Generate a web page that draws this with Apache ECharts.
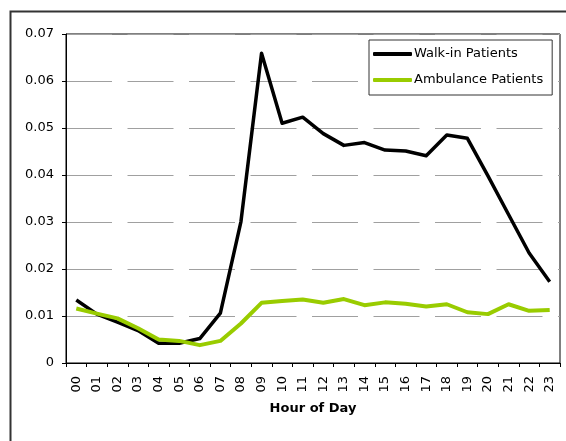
<!DOCTYPE html>
<html>
<head>
<meta charset="utf-8">
<script src="https://cdn.jsdelivr.net/npm/echarts@6/dist/echarts.min.js"></script>
<style>
html,body{margin:0;padding:0;background:#fff;}
#chart{width:566px;height:441px;}
</style>
</head>
<body>
<div id="chart"></div>
<script>
const hours = ['00','01','02','03','04','05','06','07','08','09','10','11','12','13','14','15','16','17','18','19','20','21','22','23'];
const walkIn = [0.0134, 0.0104, 0.0087, 0.0069, 0.0042, 0.0042, 0.0052, 0.0106, 0.0301, 0.0659, 0.0510, 0.0523, 0.0488, 0.0463, 0.0469, 0.0453, 0.0451, 0.0441, 0.0485, 0.0478, 0.0398, 0.0316, 0.0234, 0.0173];
const ambulance = [0.0116, 0.0105, 0.0095, 0.0074, 0.0050, 0.0047, 0.0038, 0.0047, 0.0084, 0.0128, 0.0132, 0.0135, 0.0128, 0.0136, 0.0123, 0.0129, 0.0126, 0.0120, 0.0125, 0.0108, 0.0104, 0.0125, 0.0111, 0.0113];
const seriesNames = ['Walk-in Patients', 'Ambulance Patients'];
const xAxisTitle = 'Hour of Day';

const FONT = '"DejaVu Sans", sans-serif';
const chart = echarts.init(document.getElementById('chart'), null, {renderer: 'canvas'});
chart.setOption({
  animation: false,
  backgroundColor: '#fff',
  graphic: [{
    type: 'rect', left: 8, top: 9, z: -1,
    shape: {x: 0, y: 0, width: 600, height: 500},
    style: {fill: 'none', stroke: '#333', lineWidth: 2}
  }],
  grid: {left: 66, top: 34, right: 6, bottom: 78, show: true, borderColor: '#000', borderWidth: 1, backgroundColor: 'transparent'},
  legend: {
    orient: 'vertical',
    left: 369, top: 40,
    padding: [7, 9, 8, 4],
    itemGap: 12,
    itemWidth: 39, itemHeight: 4,
    icon: 'roundRect',
    backgroundColor: '#fff',
    borderColor: '#333', borderWidth: 1,
    textStyle: {fontFamily: FONT, fontSize: 13, color: '#000', lineHeight: 14, padding: [0, 0, 0, -3]},
    data: seriesNames
  },
  xAxis: {
    type: 'category',
    data: hours,
    boundaryGap: true,
    name: xAxisTitle,
    nameLocation: 'middle',
    nameGap: 39,
    nameTextStyle: {fontFamily: FONT, fontSize: 13, fontWeight: 'bold', color: '#000'},
    axisLine: {lineStyle: {color: '#000', width: 1}},
    axisTick: {show: true, length: 4, lineStyle: {color: '#000'}},
    axisLabel: {rotate: 90, margin: 13, fontFamily: FONT, fontSize: 13, color: '#000', interval: 0},
    splitLine: {show: false}
  },
  yAxis: {
    type: 'value',
    min: 0, max: 0.07, interval: 0.01,
    axisLine: {show: true, lineStyle: {color: '#000', width: 1}},
    axisTick: {show: true, length: 4, lineStyle: {color: '#000'}},
    axisLabel: {
      margin: 12, fontFamily: FONT, fontSize: 13, color: '#000',
      formatter: function (v) { return v === 0 ? '0' : v.toFixed(2); }
    },
    splitLine: {show: true, lineStyle: {color: '#a0a0a0', width: 1, type: [46, 15.5]}}
  },
  series: [
    {
      name: seriesNames[0], type: 'line', data: walkIn,
      symbol: 'none', smooth: false,
      itemStyle: {color: '#000'},
      lineStyle: {color: '#000', width: 3.5, join: 'round'}
    },
    {
      name: seriesNames[1], type: 'line', data: ambulance,
      symbol: 'none', smooth: false,
      itemStyle: {color: '#99cc00'},
      lineStyle: {color: '#99cc00', width: 4, join: 'round'}
    }
  ]
});
</script>
</body>
</html>
